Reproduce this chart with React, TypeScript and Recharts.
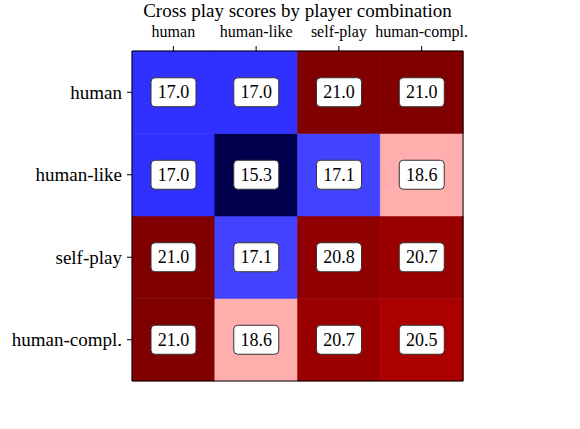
import { BarChart, Bar, XAxis, YAxis, Cell, LabelList } from "recharts";

const PLAYERS = ["human", "human-like", "self-play", "human-compl."];

// one array per row (top to bottom), values per column partner
const SCORES_HUMAN = [17.0, 17.0, 21.0, 21.0];
const SCORES_HUMAN_LIKE = [17.0, 15.3, 17.1, 18.6];
const SCORES_SELF_PLAY = [21.0, 17.1, 20.8, 20.7];
const SCORES_HUMAN_COMPL = [21.0, 18.6, 20.7, 20.5];

const ROWS = [SCORES_HUMAN, SCORES_HUMAN_LIKE, SCORES_SELF_PLAY, SCORES_HUMAN_COMPL];
const ROW_TICKS = [3.5, 2.5, 1.5, 0.5];

const FONT = "'Liberation Serif', 'DejaVu Serif', serif";

const TABLE = PLAYERS.map((name, j) => {
  const rec: any = { name, unit: 1 };
  ROWS.forEach((r, i) => { rec[`r${i}`] = r[j]; });
  return rec;
});

const ALL = ROWS.flat();
const VMIN = Math.min(...ALL);
const VMAX = Math.max(...ALL);

// matplotlib "seismic"
function seismic(v: number) {
  const t = (v - VMIN) / (VMAX - VMIN);
  let r: number, g: number, b: number;
  if (t < 0.25) {
    const k = t / 0.25;
    r = 0; g = 0; b = 0.3 + 0.7 * k;
  } else if (t < 0.5) {
    const k = (t - 0.25) / 0.25;
    r = k; g = k; b = 1;
  } else if (t < 0.75) {
    const k = (t - 0.5) / 0.25;
    r = 1; g = 1 - k; b = 1 - k;
  } else {
    const k = (t - 0.75) / 0.25;
    r = 1 - 0.5 * k; g = 0; b = 0;
  }
  const h = (x: number) => Math.round(x * 255);
  return `rgb(${h(r)},${h(g)},${h(b)})`;
}

const ScoreLabel = (props: any) => {
  const vb = props.viewBox || {};
  const x = props.x ?? vb.x;
  const y = props.y ?? vb.y;
  const width = props.width ?? vb.width;
  const height = props.height ?? vb.height;
  const cx = x + width / 2;
  const cy = y + height / 2;
  return (
    <g>
      <rect x={cx - 22.5} y={cy - 14.5} width={45} height={29} rx={4} ry={4}
        fill="#fff" stroke="#333" strokeWidth={1} />
      <text x={cx} y={cy} textAnchor="middle" dominantBaseline="central"
        fontFamily={FONT} fontSize={18} fill="#000">
        {Number(props.value).toFixed(1)}
      </text>
    </g>
  );
};

export default function App() {
  return (
    <div style={{ position: "absolute", left: 0, top: 0, width: 580, height: 429, background: "#fff" }}>
      <div style={{
        position: "absolute", left: 132, top: 1, width: 331, textAlign: "center",
        fontFamily: FONT, fontSize: 19, lineHeight: "19px", color: "#000", whiteSpace: "nowrap",
      }}>
        Cross play scores by player combination
      </div>
      <BarChart width={580} height={429} data={TABLE}
        margin={{ top: 20, right: 116, bottom: 38, left: 0 }}
        barCategoryGap={0} barGap={0}>
        {[3, 2, 1, 0].map((i) => (
          <Bar key={i} dataKey="unit" stackId="s" xAxisId="t" yAxisId="l" isAnimationActive={false}>
            {TABLE.map((d, j) => (
              <Cell key={j} fill={seismic(d[`r${i}`])} stroke={seismic(d[`r${i}`])} strokeWidth={0.5} />
            ))}
            <LabelList dataKey={`r${i}`} content={<ScoreLabel />} />
          </Bar>
        ))}
        <XAxis xAxisId="t" dataKey="name" orientation="top" height={31}
          stroke="#000" tickSize={5} tickMargin={9} interval={0}
          tick={{ fill: "#000", fontSize: 16, fontFamily: FONT }} />
        <XAxis xAxisId="b" dataKey="name" orientation="bottom" height={10}
          stroke="#000" tickSize={5} tick={false} interval={0} />
        <YAxis yAxisId="l" type="number" domain={[0, 4]} ticks={ROW_TICKS} interval={0}
          width={132} stroke="#000" tickSize={5} tickMargin={5}
          tickFormatter={(v: number) => PLAYERS[Math.round(3.5 - v)]}
          tick={{ fill: "#000", fontSize: 19, fontFamily: FONT }} />
        <YAxis yAxisId="r" orientation="right" type="number" domain={[0, 4]}
          width={1} stroke="#000" tick={false} tickLine={false} />
      </BarChart>
    </div>
  );
}
